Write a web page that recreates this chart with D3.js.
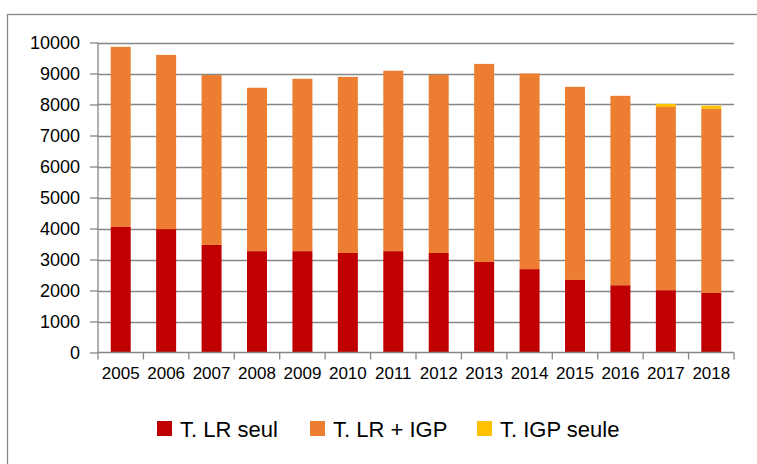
<!DOCTYPE html>
<html>
<head>
<meta charset="utf-8">
<script src="https://cdn.jsdelivr.net/npm/d3@7"></script>
<style>
  html, body { margin: 0; padding: 0; background: #fff; }
  svg { display: block; font-family: "Liberation Sans", Arial, sans-serif; }
</style>
</head>
<body>
<svg id="chart" width="757" height="464"></svg>
<script>
const years = ["2005","2006","2007","2008","2009","2010","2011","2012","2013","2014","2015","2016","2017","2018"];
const lrSeul   = [4050,3980,3470,3270,3270,3210,3270,3210,2920,2690,2340,2170,2010,1920];
const lrIgp    = [5810,5620,5480,5270,5560,5680,5820,5750,6390,6310,6230,6110,5910,5940];
const igpSeule = [0,0,0,0,0,0,0,0,0,0,0,0,100,100];
const seriesNames = ["T. LR seul","T. LR + IGP","T. IGP seule"];
const yTicks = [0,1000,2000,3000,4000,5000,6000,7000,8000,9000,10000];
const colors = ["#C00000","#ED7D31","#FFC000"];

const svg = d3.select("#chart");
const gridColor = "#868686";

// outer chart border (left/top visible, right/bottom cut off)
svg.append("rect")
  .attr("x", 7.5).attr("y", 14.5)
  .attr("width", 800).attr("height", 500)
  .attr("fill", "none").attr("stroke", gridColor).attr("stroke-width", 1.3);

const x = d3.scaleBand().domain(years).range([98, 734]).paddingInner(0.56).paddingOuter(0.28);
const y = d3.scaleLinear().domain([0, 10000]).range([352.5, 42.5]);

// gridlines
svg.append("g").selectAll("line").data(yTicks.filter(d => d > 0)).join("line")
  .attr("x1", 98).attr("x2", 734)
  .attr("y1", d => Math.round(y(d)) + 0.5).attr("y2", d => Math.round(y(d)) + 0.5)
  .attr("stroke", gridColor).attr("stroke-width", 1.3);

// stacked data
const rows = years.map((yr, i) => ({year: yr, a: lrSeul[i], b: lrIgp[i], c: igpSeule[i]}));
const stack = d3.stack().keys(["a","b","c"]);
const layers = stack(rows);

svg.append("g").selectAll("g").data(layers).join("g")
  .attr("fill", (d, i) => colors[i])
  .selectAll("rect").data(d => d).join("rect")
  .attr("x", d => x(d.data.year))
  .attr("width", x.bandwidth())
  .attr("y", d => y(d[1]))
  .attr("height", d => Math.max(0, y(d[0]) - y(d[1])));

// y axis
const yAxis = d3.axisLeft(y).tickValues(yTicks).tickSize(8).tickPadding(10).tickFormat(d3.format("d"));
const gy = svg.append("g").attr("transform", "translate(98,0)").call(yAxis);
gy.select(".domain").attr("stroke", gridColor).attr("stroke-width", 1.3).attr("d", "M0,42.5V352.5");
gy.selectAll(".tick line").attr("stroke", gridColor).attr("stroke-width", 1.3);
gy.selectAll(".tick text").attr("font-size", 18).attr("fill", "#000")
  .attr("font-family", "Liberation Sans, Arial, sans-serif");

// x axis
const xAxis = d3.axisBottom(x).tickSize(0).tickPadding(14);
const gx = svg.append("g").attr("transform", "translate(0,352.5)").call(xAxis);
gx.select(".domain").attr("stroke", gridColor).attr("stroke-width", 1.3).attr("d", "M98,0H734");
gx.selectAll(".tick text").attr("font-size", 17).attr("fill", "#000")
  .attr("font-family", "Liberation Sans, Arial, sans-serif");
// category boundary ticks
const bounds = years.map(yr => x(yr) - x.step() * x.paddingInner() / 2).concat([734]);
bounds[0] = 98;
gx.append("g").selectAll("line").data(bounds).join("line")
  .attr("x1", d => d).attr("x2", d => d).attr("y1", 0).attr("y2", 7)
  .attr("stroke", gridColor).attr("stroke-width", 1.3);

// legend
const legX = [157, 310, 477];
const leg = svg.append("g").selectAll("g").data(seriesNames).join("g")
  .attr("transform", (d, i) => `translate(${legX[i]},421)`);
leg.append("rect").attr("width", 15).attr("height", 15).attr("fill", (d, i) => colors[i]);
leg.append("text").attr("x", 23).attr("y", 15.5).attr("font-size", 22).attr("fill", "#000").text(d => d);
</script>
</body>
</html>
